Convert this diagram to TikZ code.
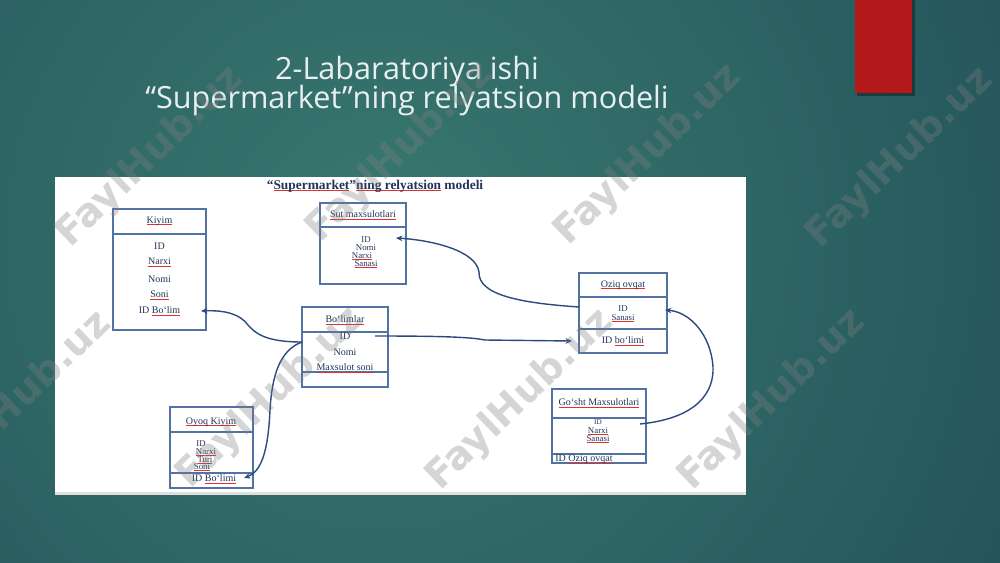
\documentclass[tikz,border=0pt]{standalone}
\usepackage{fontspec}
\setmainfont{Liberation Serif}
\newfontfamily\titlefont{Open Sans}
\newfontfamily\wmfont{DejaVu Sans}
\usetikzlibrary{arrows.meta}
\definecolor{navy}{HTML}{22345C}
\definecolor{boxc}{HTML}{5272A3}
\definecolor{linec}{HTML}{2B4A7E}
\definecolor{spell}{HTML}{E03030}
\definecolor{bgin}{HTML}{397870}
\definecolor{bgout}{HTML}{14394A}
\definecolor{redbar}{HTML}{B3191A}
\definecolor{titlec}{HTML}{E8EFF0}
\newcommand\redu[1]{\setbox0\hbox{#1}\leavevmode\rlap{\textcolor{spell}{\rule[-0.9pt]{\wd0}{0.3pt}}}\box0\relax}
\tikzset{
  tbl/.style={draw=boxc, line width=0.55pt, fill=white, inner sep=0pt},
  divl/.style={draw=boxc, line width=0.55pt},
  lbl/.style={text=navy, font=\fontsize{5}{6}\selectfont, inner sep=0pt},
  sml/.style={lbl, font=\fontsize{4.4}{5}\selectfont},
  arr/.style={draw=linec, line width=0.7pt, -{Stealth[length=3.2pt,width=2.8pt]}},
  wm/.style={font=\wmfont\bfseries\fontsize{19.5}{20}\selectfont, text=gray, text opacity=0.33, rotate=44, inner sep=0pt},
  ttl/.style={font=\titlefont\fontsize{15.3}{16}\selectfont, text=titlec, inner sep=0pt}
}
\begin{document}
\begin{tikzpicture}[x=0.5pt,y=-0.5pt]
\useasboundingbox (0,0) rectangle (1000,562);
% background
\begin{scope}
\clip (0,0) rectangle (1000,562);
\fill[bgout] (0,0) rectangle (1000,562);
\shade[inner color=bgin, outer color=bgout] (380,240) circle (1250);
\end{scope}
% red bar with shadow
\fill[black, opacity=0.35] (857,0) rectangle (915,96);
\fill[redbar] (855,0) rectangle (912,93);
% title
\node[ttl] (t1) at (407,72) {2-Labaratoriya ishi};
\node[ttl] (t2) at (407,101) {“Supermarket”ning relyatsion modeli};
% white panel
\fill[white] (55,177) rectangle (746,494);
\fill[gray!25] (55,492) rectangle (746,495);
\node[text=navy, font=\bfseries\fontsize{6.7}{8}\selectfont, inner sep=0pt] (dt) at (375,186) {“\redu{Supermarket}”\redu{ning relyatsion} modeli};

% Kiyim
\node[tbl, minimum width=46.5pt, minimum height=60.5pt] (kiyim) at (159.5,269.5) {};
\draw[divl] (kiyim.west |- 0,234) -- (kiyim.east |- 0,234);
\node[lbl] (k0) at (159.5,221) {\redu{Kiyim}};
\node[lbl] (k1) at (159.5,246) {ID};
\node[lbl] (k2) at (159.5,262) {\redu{Narxi}};
\node[lbl] (k3) at (159.5,279) {Nomi};
\node[lbl] (k4) at (159.5,295) {\redu{Soni}};
\node[lbl] (k5) at (159.5,311) {ID \redu{Bo`lim}};

% Sut maxsulotlari
\node[tbl, minimum width=43pt, minimum height=40.5pt] (sut) at (363,243.5) {};
\draw[divl] (sut.west |- 0,227) -- (sut.east |- 0,227);
\node[lbl] (s0) at (363,215) {\redu{Sut maxsulotlari}};
\node[sml] (s1) at (366,240) {ID};
\node[sml] (s2) at (366,248) {Nomi};
\node[sml] (s3) at (362,256) {\redu{Narxi}};
\node[sml] (s4) at (366,264) {\redu{Sanasi}};

% Bo`limlar
\node[tbl, minimum width=43pt, minimum height=40pt] (bol) at (345,347) {};
\draw[divl] (bol.west |- 0,332) -- (bol.east |- 0,332);
\draw[divl] (bol.west |- 0,372) -- (bol.east |- 0,372);
\node[lbl] (b0) at (345,320) {\redu{Bo`limlar}};
\node[lbl] (b1) at (345,336) {ID};
\node[lbl] (b2) at (345,352) {Nomi};
\node[lbl] (b3) at (345,368) {\redu{Maxsulot soni}};

% Oziq ovqat
\node[tbl, minimum width=44pt, minimum height=40pt] (oziq) at (623,313) {};
\draw[divl] (oziq.west |- 0,297) -- (oziq.east |- 0,297);
\draw[divl] (oziq.west |- 0,329) -- (oziq.east |- 0,329);
\node[lbl] (o0) at (623,285) {\redu{Oziq ovqat}};
\node[sml] (o1) at (623,309) {ID};
\node[sml] (o2) at (623,318) {\redu{Sanasi}};
\node[lbl] (o3) at (623,341) {ID \redu{bo`limi}};

% Go`sht Maxsulotlari
\node[tbl, minimum width=47pt, minimum height=37pt] (gosht) at (599,426) {};
\draw[divl] (gosht.west |- 0,418) -- (gosht.east |- 0,418);
\draw[divl] (gosht.west |- 0,454) -- (gosht.east |- 0,454);
\node[lbl] (g0) at (599,403) {\redu{Go`sht Maxsulotlari}};
\node[lbl, font=\fontsize{3.6}{4}\selectfont] (g1) at (598,422) {ID};
\node[sml] (g2) at (598,431) {\redu{Narxi}};
\node[sml] (g3) at (598,439) {\redu{Sanasi}};
\node[lbl, anchor=west] (g4) at (555,459.5) {ID \redu{Oziq ovqat}};

% Oyoq Kiyim
\node[tbl, minimum width=41.5pt, minimum height=40.5pt] (oyoq) at (211.5,447.5) {};
\draw[divl] (oyoq.west |- 0,432) -- (oyoq.east |- 0,432);
\draw[divl] (oyoq.west |- 0,473) -- (oyoq.east |- 0,473);
\node[lbl] (y0) at (211,422) {\redu{Oyoq Kiyim}};
\node[sml] (y1) at (201,444) {ID};
\node[sml] (y2) at (206,452) {\redu{Narxi}};
\node[sml] (y3) at (205,460) {\redu{Turi}};
\node[sml] (y4) at (202,467) {\redu{Soni}};
\node[lbl] (y5) at (214,479) {ID \redu{Bo`limi}};

% connector end points
\coordinate (bL) at (302,342);
\coordinate (bR) at (375,336);
\coordinate (kT) at (201,311);
\coordinate (yT) at (244,478);
\coordinate (oT) at (572,341);
\coordinate (oL) at (579,307);
\coordinate (sT) at (396,238);
\coordinate (gR) at (640,424);
\coordinate (oS) at (665,310);

% connectors
\draw[arr] (bL) .. controls (265,342) and (255,333) .. (248,325) .. controls (240,314) and (225,310) .. (kT);
\draw[arr] (bL) .. controls (280,350) and (272,375) .. (270,410) .. controls (268,455) and (260,472) .. (yT);
\draw[arr] (bR) .. controls (440,336) and (470,337) .. (485,340) -- (oT);
\draw[arr] (oL) .. controls (520,303) and (478,295) .. (479,272) .. controls (476,250) and (430,240) .. (sT);
\draw[arr] (gR) .. controls (700,418) and (714,390) .. (713,367) .. controls (711,335) and (690,312) .. (oS);

% watermarks
\node[wm] (w1) at (150,157) {FaylHub.uz};
\node[wm] (w2) at (400,152) {FaylHub.uz};
\node[wm] (w3) at (648,155) {FaylHub.uz};
\node[wm] (w4) at (900,158) {FaylHub.uz};
\node[wm] (w5) at (18,402) {FaylHub.uz};
\node[wm] (w6) at (270,398) {FaylHub.uz};
\node[wm] (w7) at (520,400) {FaylHub.uz};
\node[wm] (w8) at (772,400) {FaylHub.uz};
\end{tikzpicture}
\end{document}
